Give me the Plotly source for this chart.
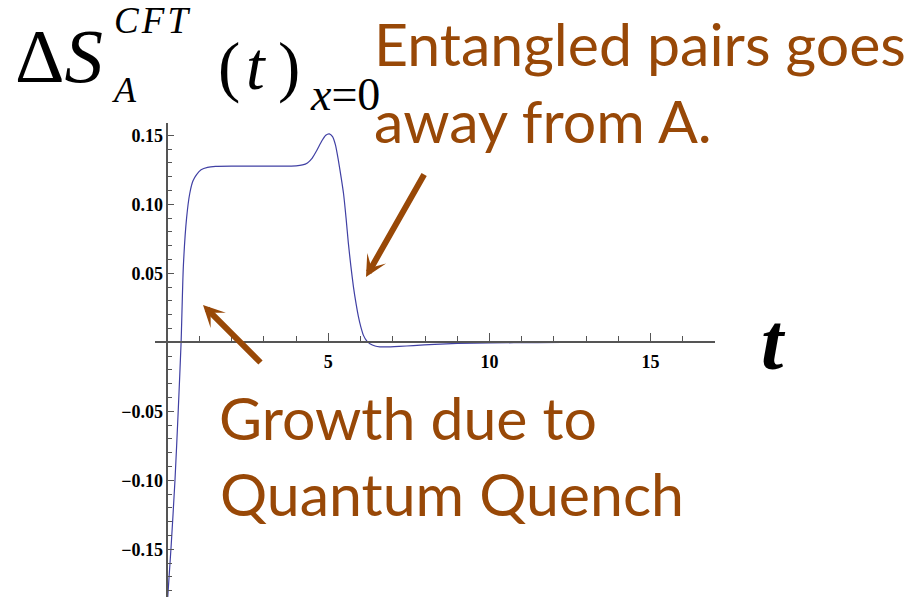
import plotly.graph_objects as go

# Entanglement entropy change at x = 0 after the quench
t_vals = [0.00, 0.12, 0.24, 0.34, 0.43, 0.50, 0.60, 0.70, 0.80, 0.91,
          1.05, 1.25, 1.50, 2.00, 3.00, 4.00, 4.20, 4.35, 4.50, 4.64,
          4.80, 4.92, 5.03, 5.13, 5.22, 5.31, 5.40, 5.47, 5.55, 5.62,
          5.70, 5.78, 5.86, 5.93, 6.01, 6.09, 6.19, 6.29, 6.45, 6.60,
          6.80, 7.20, 7.64, 8.30, 9.00, 10.0, 11.5, 13.0, 14.5, 16.6]
ds_vals = [-0.190, -0.148, -0.100, -0.050, 0.000, 0.055, 0.090, 0.108, 0.117, 0.1215,
           0.1250, 0.1268, 0.1275, 0.1277, 0.1277, 0.1278, 0.1285, 0.1300, 0.1335, 0.1390,
           0.1460, 0.1500, 0.1510, 0.1490, 0.1430, 0.1320, 0.1190, 0.1080, 0.0900, 0.0720,
           0.0550, 0.0400, 0.0280, 0.0190, 0.0110, 0.0050, 0.0010, -0.0010, -0.0027, -0.0033,
           -0.0034, -0.0030, -0.0024, -0.0015, -0.0008, -0.0005, -0.0002, -0.0001, 0.0, 0.0]

x_tick_vals = [5, 10, 15]
x_tick_text = ["5", "10", "15"]
y_tick_vals = [-0.15, -0.10, -0.05, 0.05, 0.10, 0.15]
y_tick_text = ["\u22120.15", "\u22120.10", "\u22120.05", "0.05", "0.10", "0.15"]

W, H = 913, 597
ML, MR, MT, MB = 155, 198, 123, 0
X_RANGE = [-0.38, 17.0]
Y_RANGE = [-0.1846, 0.1589]

BROWN = "#984807"
AXIS = "#555555"
SERIF = "Liberation Serif, Times New Roman, serif"
SANS = "Lato"


def px(x):
    return (x - ML) / (W - ML - MR)


def py(y):
    return (H - MB - y) / (H - MT - MB)


fig = go.Figure()
fig.add_trace(go.Scatter(
    x=t_vals, y=ds_vals, mode="lines",
    line=dict(color="#4040a4", width=1.2, shape="spline", smoothing=0.6),
    hoverinfo="skip", showlegend=False,
))

x_pos = (0 - Y_RANGE[0]) / (Y_RANGE[1] - Y_RANGE[0])
y_pos = (0 - X_RANGE[0]) / (X_RANGE[1] - X_RANGE[0])

tick_font = dict(family=SERIF, size=18, color="black", weight="bold")

fig.update_layout(
    width=W, height=H, autosize=False,
    margin=dict(l=ML, r=MR, t=MT, b=MB, pad=0),
    paper_bgcolor="white", plot_bgcolor="white",
    xaxis=dict(
        range=X_RANGE, anchor="free", position=x_pos,
        showgrid=False, zeroline=False,
        showline=True, linecolor=AXIS, linewidth=1.5,
        ticks="inside", ticklen=9, tickwidth=1.2, tickcolor=AXIS,
        tickmode="array", tickvals=x_tick_vals, ticktext=x_tick_text,
        tickfont=tick_font, ticklabelstandoff=3,
        minor=dict(ticks="inside", ticklen=6, tickwidth=1.2, tickcolor=AXIS,
                   tickmode="linear", tick0=0, dtick=1),
    ),
    yaxis=dict(
        range=Y_RANGE, anchor="free", position=y_pos,
        showgrid=False, zeroline=False,
        showline=True, linecolor=AXIS, linewidth=1.5,
        ticks="inside", ticklen=6, tickwidth=1.2, tickcolor=AXIS,
        tickmode="array", tickvals=y_tick_vals, ticktext=y_tick_text,
        tickfont=tick_font,
        minor=dict(ticks="inside", ticklen=4, tickwidth=1.2, tickcolor=AXIS,
                   tickmode="linear", tick0=0, dtick=0.01),
    ),
)


def label(text, left, center, size, family, color="black"):
    fig.add_annotation(
        text=text, xref="paper", yref="paper",
        x=px(left), y=py(center), xanchor="left", yanchor="middle",
        showarrow=False, borderpad=0,
        font=dict(family=family, size=size, color=color),
    )


# Axis title pieces
label("\u0394<i>S</i>", 14, 56.0, 77, SERIF)
label("<i>C\u200aF\u200aT</i>", 113, 21.0, 37, SERIF)
label("<i>A</i>", 111, 89.7, 36, SERIF)
label("(\u200a<i>t</i>\u2009)", 217, 66.0, 67, SERIF)
label("<i>x</i>=0", 309, 94.5, 46, SERIF)
label("<b><i>t</i></b>", 760, 342, 80, SERIF)

# Commentary
SZ = 59
label("Entangled pairs goes", 373, 66 - 0.387 * SZ, SZ, SANS, BROWN)
label("away from A.", 373, 143 - 0.387 * SZ, SZ, SANS, BROWN)
label("Growth due to", 218, 440 - 0.387 * SZ, SZ, SANS, BROWN)
label("Quantum Quench", 219, 516.5 - 0.387 * SZ, SZ, SANS, BROWN)


def arrow(tip, tail):
    fig.add_annotation(
        text="", xref="paper", yref="paper",
        x=px(tip[0]), y=py(tip[1]),
        ax=tail[0] - tip[0], ay=tail[1] - tip[1],
        showarrow=True, arrowhead=3, arrowsize=0.6, arrowwidth=6,
        arrowcolor=BROWN, standoff=0,
    )


arrow((366, 277), (425, 173))
arrow((203, 305), (262, 364))

fig.write_html("out.html")
